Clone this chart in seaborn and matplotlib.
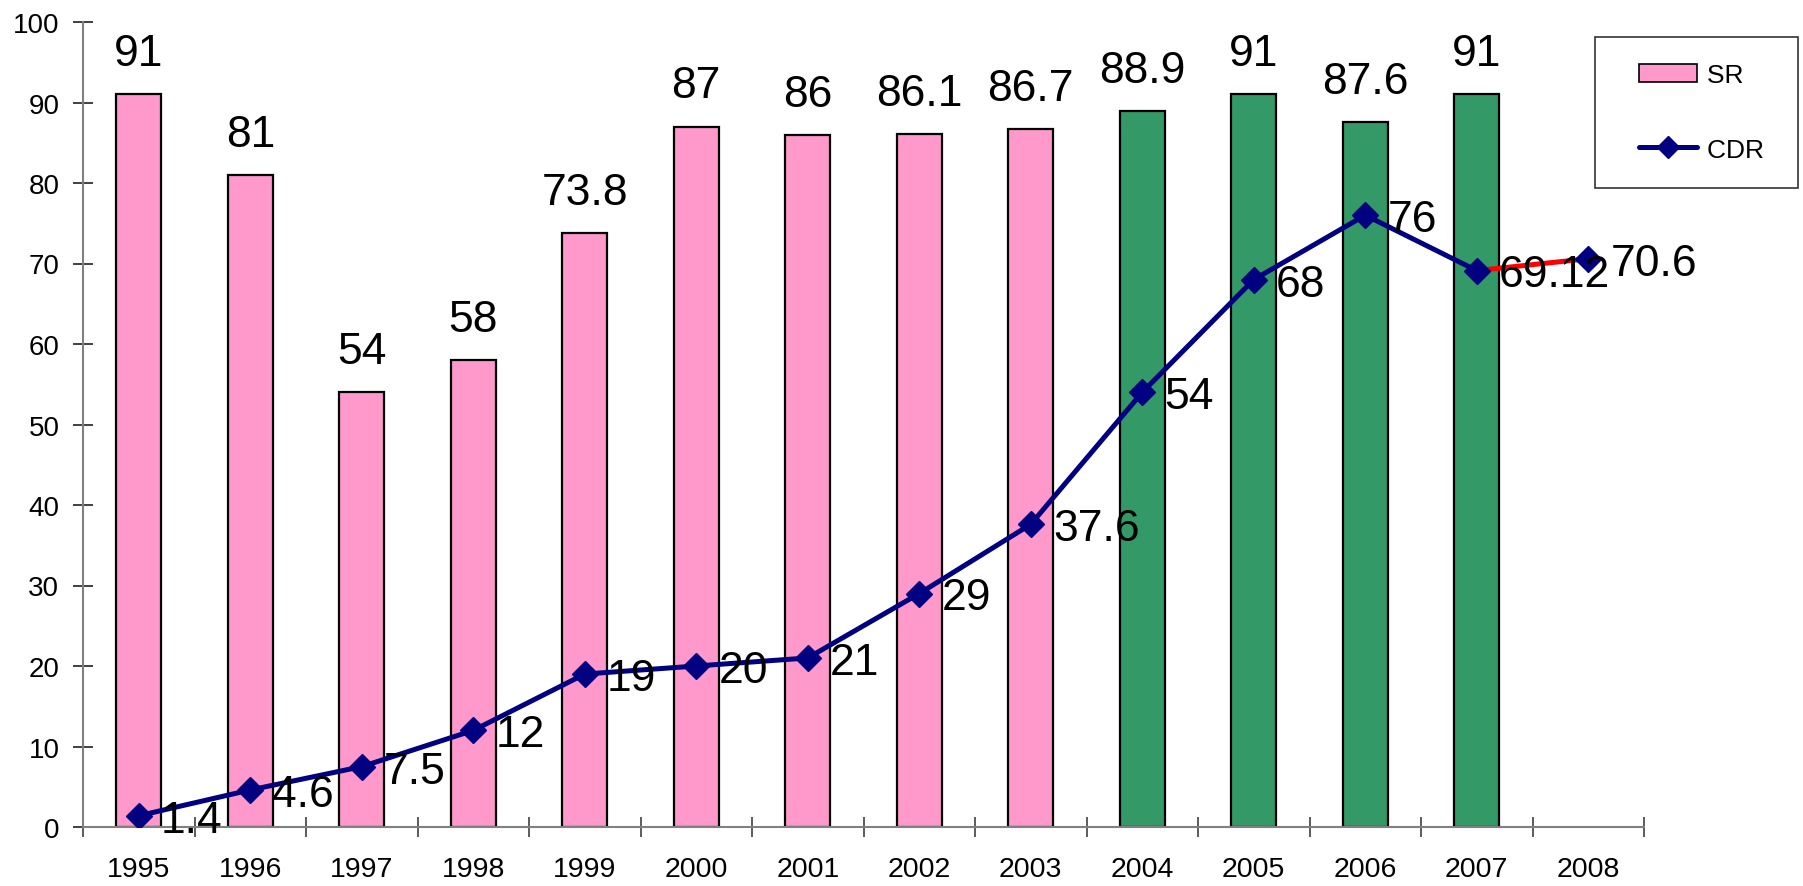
import numpy as np
import pandas as pd
import matplotlib
matplotlib.use("Agg")
import matplotlib.pyplot as plt
import seaborn as sns
from matplotlib.patches import Patch
from matplotlib.lines import Line2D
from matplotlib.legend_handler import HandlerPatch, HandlerLine2D

years = ["1995", "1996", "1997", "1998", "1999", "2000", "2001",
         "2002", "2003", "2004", "2005", "2006", "2007", "2008"]
sr = [91, 81, 54, 58, 73.8, 87, 86, 86.1, 86.7, 88.9, 91, 87.6, 91, np.nan]
cdr = [1.4, 4.6, 7.5, 12, 19, 20, 21, 29, 37.6, 54, 68, 76, 69.12, 70.6]
sr_labels = ["91", "81", "54", "58", "73.8", "87", "86", "86.1", "86.7",
             "88.9", "91", "87.6", "91", ""]
cdr_labels = ["1.4", "4.6", "7.5", "12", "19", "20", "21", "29", "37.6",
              "54", "68", "76", "69.12", "70.6"]

PINK = "#FF99CC"
GREEN = "#339966"
NAVY = "#000080"
RED = "#FF0000"
bar_colors = [PINK] * 9 + [GREEN] * 5

sns.set_theme(style="white")
plt.rcParams["font.family"] = ["Liberation Sans", "DejaVu Sans"]

df = pd.DataFrame({"year": years, "SR": sr, "CDR": cdr})

fig = plt.figure(figsize=(18.03, 8.87), dpi=100)
ax = fig.add_axes([83 / 1803, 1 - 828 / 887, (1644 - 83) / 1803, (828 - 23) / 887])

sns.barplot(data=df, x="year", y="SR", hue="year", palette=bar_colors,
            legend=False, width=0.4, edgecolor="black", linewidth=1.6,
            saturation=1, ax=ax)

pos = np.arange(len(years))
# CDR line: navy through 2007, red segment to 2008
ax.plot(pos[:13], cdr[:13], color=NAVY, lw=3.6, zorder=4, solid_capstyle="round")
ax.plot(pos[12:], cdr[12:], color=RED, lw=3.6, zorder=3)
ax.plot(pos, cdr, ls="none", marker="D", ms=13, color=NAVY, zorder=5)

LABEL_FS = 32
# value labels
for i, (v, t) in enumerate(zip(sr, sr_labels)):
    if t:
        ax.annotate(t, (i, v), xytext=(0, 21), textcoords="offset points",
                    ha="center", va="baseline", fontsize=LABEL_FS, color="black")
for i, (v, t) in enumerate(zip(cdr, cdr_labels)):
    ax.annotate(t, (i, v), xytext=(16, -0.358 * LABEL_FS), textcoords="offset points",
                ha="left", va="baseline", fontsize=LABEL_FS, color="black", zorder=6)

ax.set_xlim(-0.5, 13.5)
ax.set_ylim(0, 100)
ax.set_yticks(np.arange(0, 101, 10))
ax.set_xlabel("")
ax.set_ylabel("")

for s in ["top", "right"]:
    ax.spines[s].set_visible(False)
for s in ["left", "bottom"]:
    ax.spines[s].set_color("#808080")
    ax.spines[s].set_linewidth(1.5)

ax.set_xticks(pos)
ax.set_xticklabels(years)
ax.set_xticks(np.arange(-0.5, 14, 1), minor=True)
ax.tick_params(axis="x", which="major", length=0, pad=21)
ax.tick_params(axis="x", which="minor", direction="inout", length=14,
               width=1.2, color="#404040", bottom=True)
ax.tick_params(axis="y", which="major", direction="inout", length=14,
               width=1.2, color="#202020", pad=10, left=True)
plt.setp(ax.get_xticklabels(), fontsize=20.5, color="black")
plt.setp(ax.get_yticklabels(), fontsize=20, color="black")

handles = [Patch(facecolor=PINK, edgecolor="black", linewidth=1.2, label="SR "),
           Line2D([], [], color=NAVY, lw=3.6, marker="D", ms=11, label="CDR ")]
leg = fig.legend(handles=handles, loc="upper right",
                 bbox_to_anchor=(1798 / 1803, 1 - 38 / 887),
                 fontsize=19, frameon=True, fancybox=False,
                 borderpad=1.0, labelspacing=1.9, handlelength=2.85,
                 handletextpad=0.4, borderaxespad=0,
                 handler_map={Patch: HandlerPatch(xpad=0.65),
                              Line2D: HandlerLine2D(xpad=0.65)})
leg.get_frame().set_edgecolor("black")
leg.get_frame().set_linewidth(1.2)
for txt in leg.get_texts():
    txt.set_color("black")

fig.savefig("out.png", dpi=100, facecolor="white")
